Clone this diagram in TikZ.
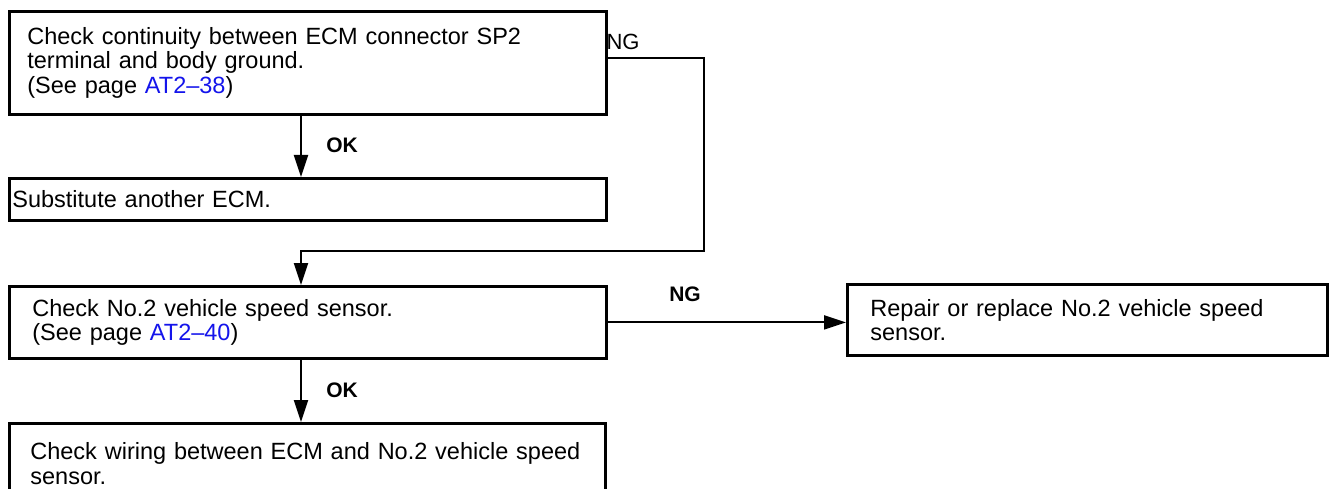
\documentclass[tikz,border=0pt]{standalone}
\usepackage{fontspec}
\setmainfont{Liberation Sans}
\usetikzlibrary{arrows.meta}
\definecolor{linkblue}{RGB}{20,20,235}
\newcommand{\seepage}[1]{(See page \textcolor{linkblue}{#1})}

\begin{document}
\begin{tikzpicture}[x=1pt, y=-1pt, line join=miter,
  stepbox/.style={draw, line width=\boxLineWidth, anchor=north west, align=left,
    inner ysep=0pt, font=\fontsize{23.5}{24.5}\selectfont},
  flow/.style={line width=\flowLineWidth, -{Triangle[length=22pt, width=14pt]}},
  verdict/.style={font=\fontsize{21}{21}\selectfont\bfseries, inner sep=0pt}]
% Flow chart laid out in pixel units of the page
\providecommand{\boxLineWidth}{2.8pt}
\providecommand{\flowLineWidth}{2pt}
\useasboundingbox (0,0) rectangle (1330,489);
\clip (0,0) rectangle (1330,489);
% Check boxes
\node[stepbox, minimum width=597pt, minimum height=103pt, inner xsep=18pt, text width=561pt]
  (chk1) at (8,10) {Check continuity between ECM connector SP2\\terminal and body ground.\\\seepage{AT2–38}};
\node[stepbox, minimum width=597pt, minimum height=42pt, inner xsep=3pt, text width=591pt]
  (subst) at (8,177) {Substitute another ECM.};
\node[stepbox, minimum width=597pt, minimum height=72pt, inner xsep=23pt, text width=551pt]
  (chk2) at (8,285) {Check No.2 vehicle speed sensor.\\\seepage{AT2–40}};
\node[stepbox, minimum width=596pt, minimum height=80pt, inner xsep=21pt, text width=554pt]
  (wiring) at (8,422) {Check wiring between ECM and No.2 vehicle speed\\sensor.};
\node[stepbox, minimum width=480pt, minimum height=71pt, inner xsep=23pt, text width=434pt]
  (repair) at (846,283) {Repair or replace No.2 vehicle speed\\sensor.};
% Connectors
\coordinate (ax) at (301,0);
\coordinate (ngturn) at (704,58);
\coordinate (ngback) at (704,251);
\draw[flow] (chk1.south -| ax) -- (subst.north -| ax);
\draw[flow] (chk1.east |- ngturn) -- (ngturn) -- (ngback) -| (chk2.north -| ax);
\draw[flow] (chk2.east) -- (chk2.east -| repair.west);
\draw[flow] (chk2.south -| ax) -- (wiring.north -| ax);
% Labels
\node[verdict] (ok1) at (342,145) {OK};
\node[verdict] (ok2) at (342,390) {OK};
\node[verdict] (ng2) at (685,294) {NG};
\node[font=\fontsize{22}{22}\selectfont, inner sep=0pt] (ng1) at (623,42) {NG};
\end{tikzpicture}
\end{document}
